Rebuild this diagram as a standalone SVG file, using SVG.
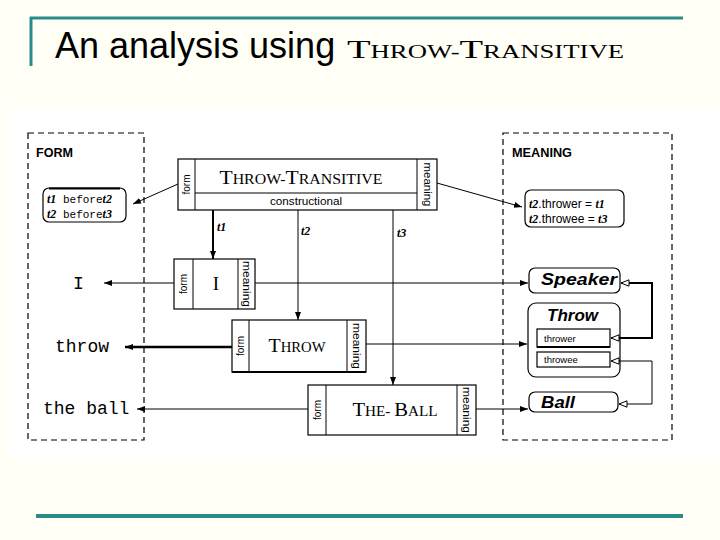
<svg xmlns="http://www.w3.org/2000/svg" width="720" height="540" viewBox="0 0 720 540">
<defs>
<style>
.bg{fill:#fffff6}
.teal{stroke:#2b8b89;fill:none}
.dash{fill:none;stroke:#000;stroke-width:1.2;stroke-dasharray:6,4}
.box{fill:#fff;stroke:#000;stroke-width:1.2}
.ln{fill:none;stroke:#000;stroke-width:1}
.sans{font-family:"Liberation Sans",Arial,sans-serif}
.serif{font-family:"Liberation Serif","Times New Roman",serif}
.mono{font-family:"Liberation Mono","Courier New",monospace}
.col{font-family:"Liberation Sans",Arial,sans-serif;font-size:10px;text-anchor:middle}
.var{font-family:"Liberation Serif","Times New Roman",serif;font-weight:bold;font-style:italic;font-size:12px}
.frame{font-family:"Liberation Sans",Arial,sans-serif;font-weight:bold;font-style:italic;font-size:17px}
.sc{font-family:"Liberation Serif","Times New Roman",serif;text-anchor:middle}
</style>
<marker id="ah" viewBox="0 0 8 8" refX="8" refY="4" markerWidth="8" markerHeight="8" markerUnits="userSpaceOnUse" orient="auto"><path d="M0,1 L8,4 L0,7 z" fill="#000"/></marker>
<marker id="oa" viewBox="0 0 10 8" refX="9" refY="4" markerWidth="10" markerHeight="8" markerUnits="userSpaceOnUse" orient="auto-start-reverse"><path d="M1,0.8 L9,4 L1,7.2 z" fill="#fff" stroke="#000" stroke-width="1"/></marker>
</defs>
<rect class="bg" x="0" y="0" width="720" height="540"/>
<rect x="10" y="110" width="710" height="348" fill="#fff"/>
<g id="title">
<line class="teal" x1="30" y1="18" x2="683" y2="18" stroke-width="3"/>
<line class="teal" x1="31" y1="17" x2="31" y2="66" stroke-width="3"/>
<line class="teal" x1="36" y1="516" x2="683" y2="516" stroke-width="4"/>
<text x="55" y="58" class="sans" font-size="36" fill="#000">An analysis using</text>
<text x="347" y="58" class="serif" fill="#000" textLength="277" lengthAdjust="spacingAndGlyphs"><tspan font-size="26">T</tspan><tspan font-size="18">HROW-</tspan><tspan font-size="26">T</tspan><tspan font-size="18">RANSITIVE</tspan></text>
</g>
<g id="form-area">
<rect class="dash" x="28" y="133" width="116" height="307"/>
<text x="36" y="157" class="sans" font-weight="bold" font-size="13" textLength="37" lengthAdjust="spacingAndGlyphs">FORM</text>
</g>
<g id="meaning-area">
<rect class="dash" x="503" y="133" width="169" height="307"/>
<text x="512" y="157" class="sans" font-weight="bold" font-size="13" textLength="60" lengthAdjust="spacingAndGlyphs">MEANING</text>
</g>
<g id="form-constraints">
<rect class="box" x="43" y="188" width="83" height="34" rx="6"/>
<line x1="49" y1="188.5" x2="120" y2="188.5" stroke="#000" stroke-width="2"/>
<text x="47" y="203"><tspan class="var">t1</tspan><tspan class="mono" font-size="11"> before</tspan><tspan class="var">t2</tspan></text>
<text x="47" y="218"><tspan class="var">t2</tspan><tspan class="mono" font-size="11"> before</tspan><tspan class="var">t3</tspan></text>
</g>
<g id="meaning-constraints">
<rect class="box" x="525" y="190" width="99" height="37" rx="6"/>
<text x="529" y="208" class="sans" font-size="12"><tspan class="var">t2</tspan>.thrower = <tspan class="var">t1</tspan></text>
<text x="529" y="223" class="sans" font-size="12"><tspan class="var">t2</tspan>.throwee = <tspan class="var">t3</tspan></text>
</g>
<g id="throw-transitive">
<rect class="box" x="178" y="159" width="259" height="51"/>
<line class="ln" x1="195" y1="159" x2="195" y2="210"/>
<line class="ln" x1="417" y1="159" x2="417" y2="210"/>
<line class="ln" x1="195" y1="193" x2="417" y2="193"/>
<text class="col" transform="translate(190,184.5) rotate(-90)">form</text>
<text class="col" transform="translate(423.5,184.5) rotate(90)" textLength="44" lengthAdjust="spacingAndGlyphs">meaning</text>
<text class="sc" x="301" y="184" textLength="163" lengthAdjust="spacingAndGlyphs"><tspan font-size="19">T</tspan><tspan font-size="14">HROW-</tspan><tspan font-size="19">T</tspan><tspan font-size="14">RANSITIVE</tspan></text>
<text x="306" y="205" class="sans" font-size="11.5" text-anchor="middle" textLength="72" lengthAdjust="spacingAndGlyphs">constructional</text>
</g>
<g id="I">
<rect class="box" x="174" y="259" width="81" height="50"/>
<line class="ln" x1="193" y1="259" x2="193" y2="309"/>
<line class="ln" x1="238" y1="259" x2="238" y2="309"/>
<text class="col" transform="translate(187,284) rotate(-90)">form</text>
<text class="col" transform="translate(243,284) rotate(90)" textLength="46" lengthAdjust="spacingAndGlyphs">meaning</text>
<text class="sc" x="216" y="290" font-size="19">I</text>
</g>
<g id="throw">
<rect class="box" x="232" y="320" width="134" height="52"/>
<line x1="232" y1="372" x2="366" y2="372" stroke="#000" stroke-width="2"/>
<line class="ln" x1="249" y1="320" x2="249" y2="372"/>
<line class="ln" x1="347" y1="320" x2="347" y2="372"/>
<text class="col" transform="translate(244,346) rotate(-90)">form</text>
<text class="col" transform="translate(352.5,346) rotate(90)" textLength="46" lengthAdjust="spacingAndGlyphs">meaning</text>
<text class="sc" x="297" y="352" textLength="57" lengthAdjust="spacingAndGlyphs"><tspan font-size="19">T</tspan><tspan font-size="14">HROW</tspan></text>
</g>
<g id="the-ball">
<rect class="box" x="308" y="385" width="168" height="50"/>
<line class="ln" x1="326" y1="385" x2="326" y2="435"/>
<line class="ln" x1="457" y1="385" x2="457" y2="435"/>
<text class="col" transform="translate(320.5,410) rotate(-90)">form</text>
<text class="col" transform="translate(463,410) rotate(90)" textLength="46" lengthAdjust="spacingAndGlyphs">meaning</text>
<text class="sc" x="395" y="416" textLength="85" lengthAdjust="spacingAndGlyphs"><tspan font-size="19">T</tspan><tspan font-size="14">HE- </tspan><tspan font-size="19">B</tspan><tspan font-size="14">ALL</tspan></text>
</g>
<g id="labels-form">
<text x="73" y="289" class="mono" font-size="18">I</text>
<text x="55" y="352" class="mono" font-size="18">throw</text>
<text x="43" y="414" class="mono" font-size="18">the ball</text>
</g>
<g id="speaker">
<rect class="box" x="529" y="268" width="91" height="25" rx="6"/>
<text x="541" y="285" class="frame" textLength="76" lengthAdjust="spacingAndGlyphs">Speaker</text>
</g>
<g id="throw-frame">
<rect class="box" x="528" y="303" width="92" height="74" rx="8"/>
<text x="547" y="321" class="frame" textLength="51" lengthAdjust="spacingAndGlyphs">Throw</text>
<rect class="box" x="537" y="329" width="73" height="18" stroke-width="1"/>
<line x1="537" y1="347" x2="610" y2="347" stroke="#000" stroke-width="2"/>
<text x="544" y="342" class="sans" font-size="9.5">thrower</text>
<rect class="box" x="537" y="352" width="73" height="15" stroke-width="1"/>
<text x="544" y="363" class="sans" font-size="9.5">throwee</text>
</g>
<g id="ball">
<rect class="box" x="529" y="392" width="89" height="20" rx="6"/>
<text x="541" y="408" class="frame" textLength="34" lengthAdjust="spacingAndGlyphs">Ball</text>
</g>
<g id="connectors">
<line class="ln" x1="178" y1="184" x2="133" y2="204" marker-end="url(#ah)"/>
<line class="ln" x1="437" y1="183" x2="522" y2="207" marker-end="url(#ah)"/>
<line x1="213" y1="210" x2="213" y2="259" stroke="#000" stroke-width="2" marker-end="url(#ah)"/>
<line class="ln" x1="298" y1="210" x2="298" y2="320" marker-end="url(#ah)"/>
<line class="ln" x1="393" y1="210" x2="393" y2="385" marker-end="url(#ah)"/>
<text x="217" y="231" class="var">t1</text>
<text x="301" y="235" class="var">t2</text>
<text x="397" y="237" class="var">t3</text>
<line class="ln" x1="174" y1="283" x2="104" y2="283" marker-end="url(#ah)"/>
<line x1="232" y1="347" x2="125" y2="347" stroke="#000" stroke-width="2.5" marker-end="url(#ah)"/>
<line class="ln" x1="308" y1="409" x2="137" y2="409" marker-end="url(#ah)"/>
<line class="ln" x1="255" y1="283" x2="528" y2="283" marker-end="url(#ah)"/>
<line class="ln" x1="366" y1="344" x2="527" y2="344" marker-end="url(#ah)"/>
<line class="ln" x1="476" y1="409" x2="528" y2="409" marker-end="url(#ah)"/>
<polyline points="621,283 652,283 652,338 611,338" fill="none" stroke="#000" stroke-width="2" marker-start="url(#oa)" marker-end="url(#oa)"/>
<polyline points="611,361 652,361 652,404 619,404" fill="none" stroke="#000" stroke-width="1" marker-start="url(#oa)" marker-end="url(#oa)"/>
</g>
</svg>
